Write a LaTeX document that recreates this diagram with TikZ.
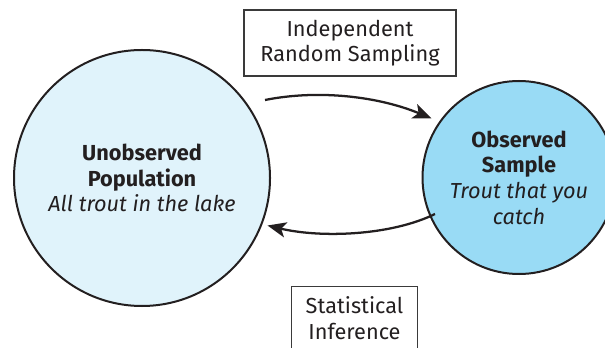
\documentclass[tikz,border=0pt]{standalone}
\usepackage{fontspec}
\setmainfont{Fira Sans}
\usetikzlibrary{arrows.meta}
\definecolor{popfill}{HTML}{E0F3FB}
\definecolor{samplefill}{HTML}{99DBF5}
\definecolor{ink}{HTML}{231F20}
\definecolor{boxline}{HTML}{3A3A3A}
\tikzset{
  bubble/.style={circle, draw=ink, line width=1.5pt, inner sep=0pt,
    align=center, text=ink, font=\fontsize{16.3pt}{19.3pt}\selectfont},
  labelbox/.style={draw=boxline, line width=0.9pt, inner sep=0pt,
    align=center, text=ink, font=\fontsize{16.3pt}{18.5pt}\selectfont},
  flow/.style={draw=ink, line width=1.7pt,
    -{Stealth[length=14pt, width=11.5pt, inset=3.5pt]}}
}
\begin{document}
\begin{tikzpicture}[x=0.75pt, y=-0.75pt]
  \useasboundingbox (0,0) rectangle (605,348);
  \clip (0,0) rectangle (605,348);

  % population and sample
  \node[bubble, fill=popfill, minimum size=192pt] (pop) at (142,178)
    {\textbf{Unobserved}\\ \textbf{Population}\\ \textit{All trout in the lake}};
  \node[bubble, fill=samplefill, minimum size=144.75pt] (smp) at (519,177.5)
    {\textbf{Observed}\\ \textbf{Sample}\\ \textit{Trout that you}\\ \textit{catch}};

  % process labels
  \node[labelbox, minimum width=159pt, minimum height=49.5pt] (samp) at (350,43)
    {Independent\\ Random Sampling};
  \node[labelbox, minimum width=95pt, minimum height=47.25pt] (inf) at (354.5,318)
    {Statistical\\[1.2pt] Inference};

  % connector end points
  \coordinate (a1) at (265,100);
  \coordinate (a2) at (431.5,118.5);
  \coordinate (b1) at (435,214);
  \coordinate (b2) at (267.5,225.5);

  \draw[flow] (a1) .. controls (320,89) and (380,97) .. (a2);
  \draw[flow] (b1) .. controls (390,236) and (320,238) .. (b2);
\end{tikzpicture}
\end{document}
